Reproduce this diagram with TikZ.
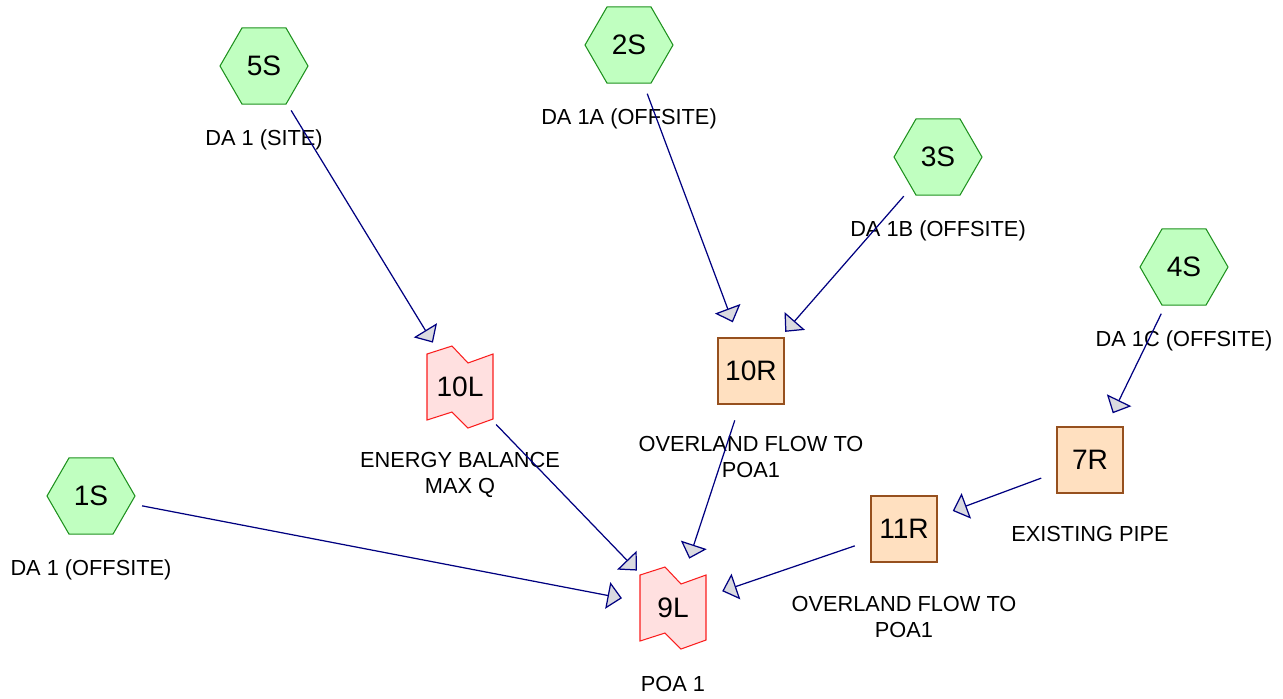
\documentclass[tikz,border=0pt]{standalone}
\usepackage{fontspec}
\setmainfont{Liberation Sans}
\usetikzlibrary{shapes.geometric, arrows.meta, backgrounds}

\definecolor{subfill}{RGB}{192,255,192}
\definecolor{subline}{RGB}{30,145,30}
\definecolor{reachfill}{RGB}{255,224,192}
\definecolor{reachline}{RGB}{150,80,30}
\definecolor{pondfill}{RGB}{255,224,224}
\definecolor{pondline}{RGB}{250,30,30}
\definecolor{flowline}{RGB}{0,0,128}
\definecolor{tipfill}{RGB}{218,218,224}

\begin{document}
\begin{tikzpicture}[x=0.02cm, y=-0.02cm,
    subcat/.style={regular polygon, regular polygon sides=6, draw=subline, fill=subfill,
                   line width=0.6pt, minimum size=1.76cm, inner sep=0pt,
                   font=\fontsize{16}{19}\selectfont},
    reach/.style={rectangle, draw=reachline, fill=reachfill, line width=0.6pt,
                  minimum size=1.32cm, inner sep=0pt, font=\fontsize{16}{19}\selectfont},
    pond/.style={rectangle, minimum size=1.32cm, inner sep=0pt, font=\fontsize{16}{19}\selectfont},
    lbl/.style={align=center, inner sep=0pt, font=\fontsize{12.4}{14.4}\selectfont},
    flow/.style={flowline, line width=0.7pt, shorten <=1.04cm, shorten >=1.04cm,
                 -{Triangle[length=0.29cm, width=0.54cm, fill=tipfill]}}]
    \useasboundingbox (0,0) rectangle (1283,698);

    % subcatchments
    \node[subcat] (s5) at (264,66) {5S};
    \node[subcat] (s2) at (629,45) {2S};
    \node[subcat] (s3) at (938,157) {3S};
    \node[subcat] (s4) at (1184,267) {4S};
    \node[subcat] (s1) at (91,496) {1S};
    \node[lbl] (l5) at (264,140) {DA 1 (SITE)};
    \node[lbl] (l2) at (629,119) {DA 1A (OFFSITE)};
    \node[lbl] (l3) at (938,231) {DA 1B (OFFSITE)};
    \node[lbl] (l4) at (1184,341) {DA 1C (OFFSITE)};
    \node[lbl] (l1) at (91,570) {DA 1 (OFFSITE)};

    % reaches
    \node[reach] (r10) at (751,371) {10R};
    \node[reach] (r7) at (1090,460) {7R};
    \node[reach] (r11) at (904,529) {11R};
    \node[lbl] (lr10) at (751,457) {OVERLAND FLOW TO\\POA1};
    \node[lbl] (lr7) at (1090,534) {EXISTING PIPE};
    \node[lbl] (lr11) at (904,617) {OVERLAND FLOW TO\\POA1};

    % ponds
    \node[pond] (p10) at (460,387) {10L};
    \node[pond] (p9) at (673,608) {9L};
    \node[lbl] (lp10) at (460,475) {ENERGY BALANCE\\MAX Q};
    \node[lbl] (lp9) at (673,684) {POA 1};
    \begin{scope}[on background layer]
      \foreach \p in {p10, p9}
        \draw[draw=pondline, fill=pondfill, line width=0.6pt, shift={(\p.center)}]
          (-33,-33) -- (-8,-41) -- (8,-24) -- (33,-33) -- (33,32) -- (8,41)
          -- (-8,25) -- (-33,33) -- cycle;
    \end{scope}

    % routing
    \draw[flow] (s5.center) -- (p10.center);
    \draw[flow] (s2.center) -- (r10.center);
    \draw[flow] (s3.center) -- (r10.center);
    \draw[flow] (s4.center) -- (r7.center);
    \draw[flow] (r7.center) -- (r11.center);
    \draw[flow] (s1.center) -- (p9.center);
    \draw[flow] (p10.center) -- (p9.center);
    \draw[flow] (r10.center) -- (p9.center);
    \draw[flow] (r11.center) -- (p9.center);
  \end{tikzpicture}
\end{document}
